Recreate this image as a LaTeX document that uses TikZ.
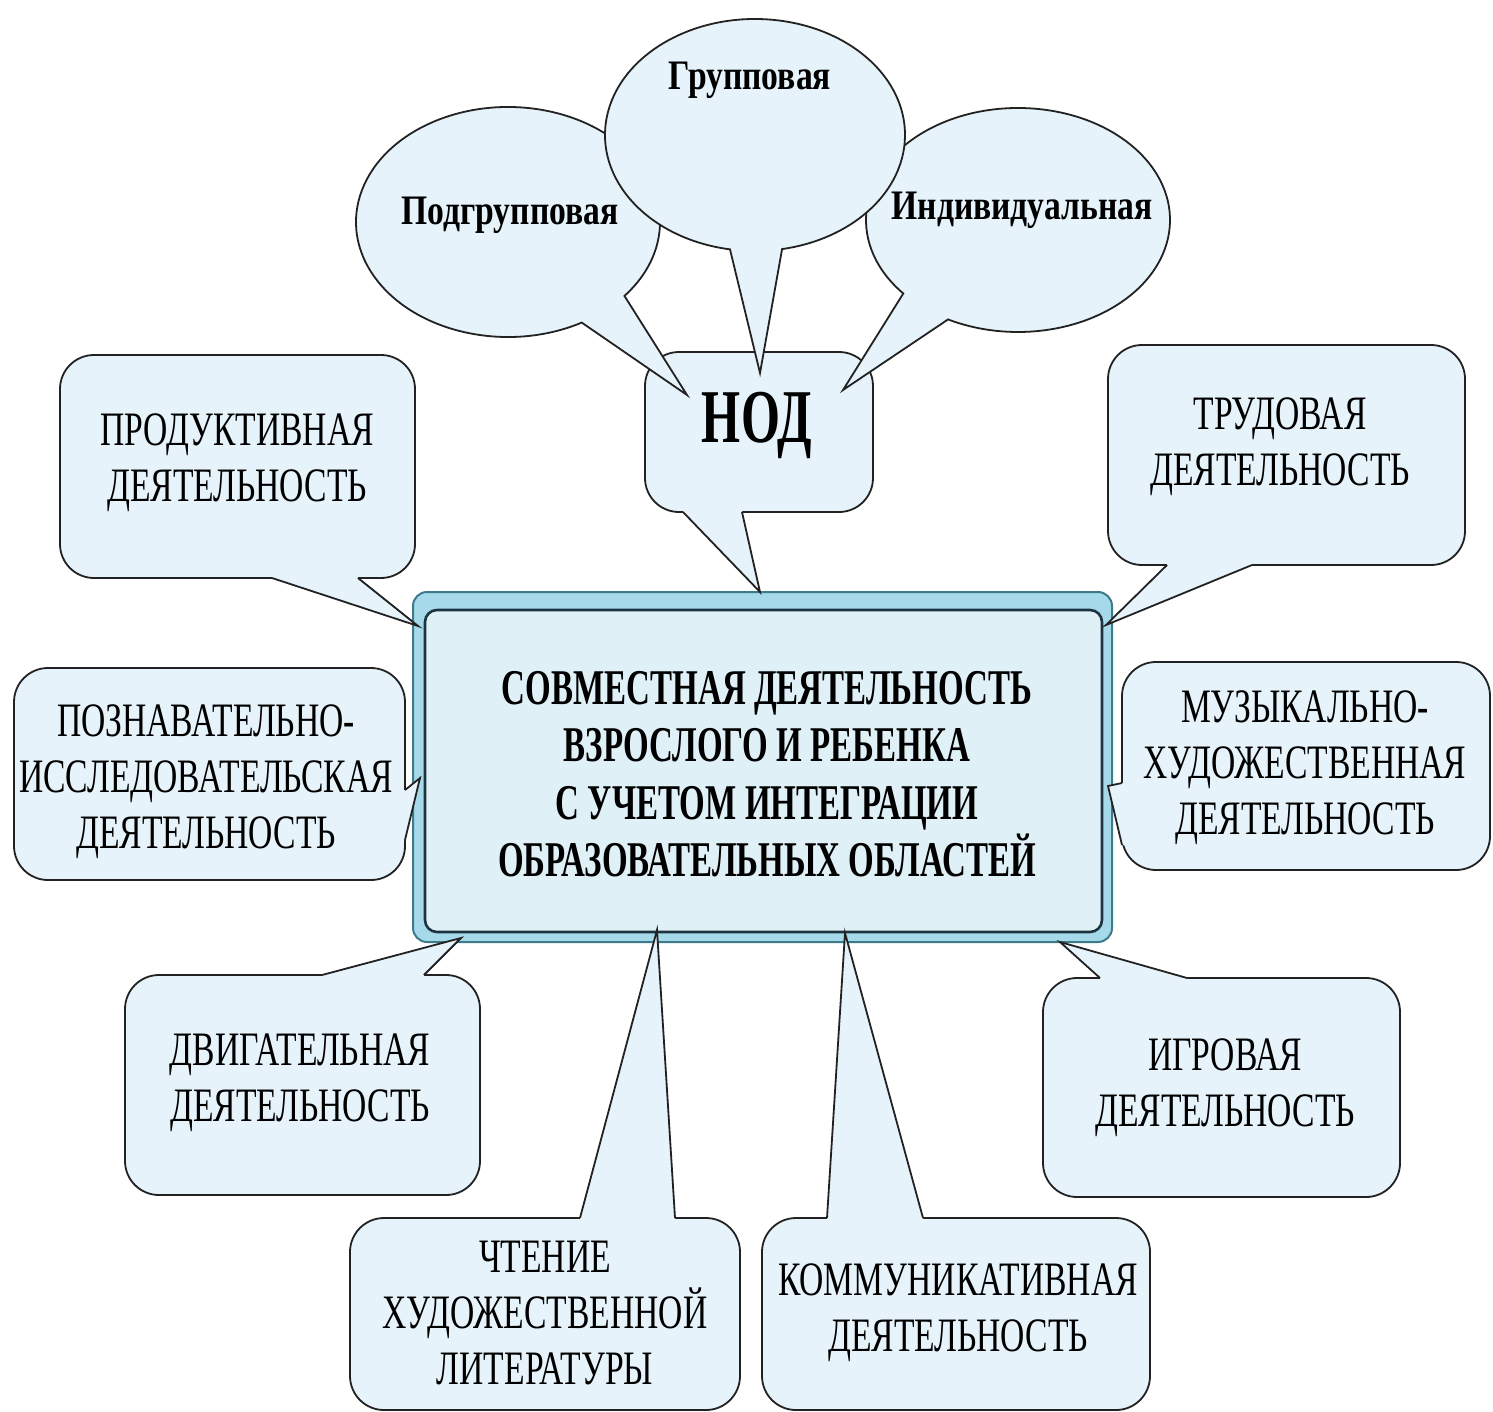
\documentclass[tikz,border=0pt]{standalone}
\usepackage{fontspec}
\setmainfont{Liberation Serif}
\newfontfamily\condr[FakeStretch=0.70]{Liberation Serif}
\newfontfamily\condb[FakeStretch=0.66]{Liberation Serif}
\newfontfamily\condbe[FakeStretch=0.80]{Liberation Serif}
\usetikzlibrary{calc}
\definecolor{cfill}{HTML}{E6F3FA}
\definecolor{cline}{HTML}{222222}
\definecolor{frameblue}{HTML}{A6D9EA}
\definecolor{frameline}{HTML}{3D7A8A}
\definecolor{innerfill}{HTML}{E0F0F7}
\definecolor{innerline}{HTML}{1C3440}
\tikzset{
  cbox/.style={draw=cline, line width=0.9pt, fill=cfill, rounded corners=17pt},
  pcover/.style={fill=cfill, draw=none},
  pline/.style={draw=cline, line width=0.9pt, line join=miter},
  ebox/.style={draw=cline, line width=0.9pt, fill=cfill},
  ctext/.style={align=center, inner sep=0pt, font=\condr\fontsize{24}{28}\selectfont},
  etext/.style={inner sep=0pt, font=\condbe\bfseries\fontsize{21}{24}\selectfont},
  mtext/.style={align=center, inner sep=0pt, font=\condb\bfseries\fontsize{25}{28.7}\selectfont},
}
\begin{document}
\begin{tikzpicture}[x=0.5pt, y=-0.5pt]
\useasboundingbox (0,0) rectangle (1493,1412);
\fill[white] (0,0) rectangle (1493,1412);

% central frame
\draw[fill=frameblue, draw=frameline, line width=1pt, rounded corners=7pt] (413,592) rectangle (1112,942);
\draw[fill=innerfill, draw=innerline, line width=1.3pt, rounded corners=6pt] (425,610) rectangle (1102,932);
\node[mtext] (main) at (767,774) {СОВМЕСТНАЯ ДЕЯТЕЛЬНОСТЬ\\ВЗРОСЛОГО И РЕБЕНКА\\С УЧЕТОМ ИНТЕГРАЦИИ\\ОБРАЗОВАТЕЛЬНЫХ ОБЛАСТЕЙ};

% NOD box
\draw[cbox] (645,352) rectangle (873,512);
\fill[pcover] (683,512) -- (760,592) -- (742,512) -- (742,505) -- (683,505) -- cycle;
\draw[pline] (683,512) -- (760,592) -- (742,512);
\node[inner sep=0pt, font=\condb\bfseries\fontsize{38}{40}\selectfont] (nod) at (757,425) {НОД};

% ellipses
\coordinate (pg) at (508,222);
\coordinate (ind) at (1018,220);
\coordinate (gr) at (755,135);
\draw[ebox] ($(pg)+(61:152 and 115)$) arc[start angle=61, end angle=400, x radius=152, y radius=115] -- (687,395) -- cycle;
\draw[ebox] ($(ind)+(139:152 and 112)$) arc[start angle=139, end angle=477.4, x radius=152, y radius=112] -- (843,390) -- cycle;
\draw[ebox] ($(gr)+(99.6:150 and 116)$) arc[start angle=99.6, end angle=439.6, x radius=150, y radius=116] -- (760,373) -- cycle;
\node[etext] (tpg) at (510,215) {Подгрупповая};
\node[etext] (tgr) at (750,80) {Групповая};
\node[etext] (tind) at (1022,210) {Индивидуальная};

% ПРОДУКТИВНАЯ
\draw[cbox] (60,355) rectangle (415,578);
\fill[pcover] (272,578) -- (418,626) -- (358,578) -- (358,571) -- (272,571) -- cycle;
\draw[pline] (272,578) -- (418,626) -- (358,578);
\node[ctext] (prod) at (237,463) {ПРОДУКТИВНАЯ\\ДЕЯТЕЛЬНОСТЬ};

% ПОЗНАВАТЕЛЬНО
\draw[cbox] (14,668) rectangle (405,880);
\fill[pcover] (405,790) -- (420,778) -- (405,840) -- (398,840) -- (398,790) -- cycle;
\draw[pline] (405,790) -- (420,778) -- (405,840);
\node[ctext] (pozn) at (206,782) {ПОЗНАВАТЕЛЬНО-\\ИССЛЕДОВАТЕЛЬСКАЯ\\ДЕЯТЕЛЬНОСТЬ};

% ДВИГАТЕЛЬНАЯ
\draw[cbox] (125,975) rectangle (480,1195);
\fill[pcover] (322,975) -- (461,938) -- (424,975) -- (424,982) -- (322,982) -- cycle;
\draw[pline] (322,975) -- (461,938) -- (424,975);
\node[ctext] (dvig) at (300,1083) {ДВИГАТЕЛЬНАЯ\\ДЕЯТЕЛЬНОСТЬ};

% ЧТЕНИЕ
\draw[cbox] (350,1218) rectangle (740,1410);
\fill[pcover] (580,1218) -- (657,930) -- (675,1218) -- (675,1225) -- (580,1225) -- cycle;
\draw[pline] (580,1218) -- (657,930) -- (675,1218);
\node[ctext] (cht) at (545,1313) {ЧТЕНИЕ\\ХУДОЖЕСТВЕННОЙ\\ЛИТЕРАТУРЫ};

% КОММУНИКАТИВНАЯ
\draw[cbox] (762,1218) rectangle (1150,1410);
\fill[pcover] (827,1218) -- (845,933) -- (923,1218) -- (923,1225) -- (827,1225) -- cycle;
\draw[pline] (827,1218) -- (845,933) -- (923,1218);
\node[ctext] (komm) at (958,1313) {КОММУНИКАТИВНАЯ\\ДЕЯТЕЛЬНОСТЬ};

% ИГРОВАЯ
\draw[cbox] (1043,978) rectangle (1400,1197);
\fill[pcover] (1100,978) -- (1060,942) -- (1187,978) -- (1187,985) -- (1100,985) -- cycle;
\draw[pline] (1100,978) -- (1060,942) -- (1187,978);
\node[ctext] (igr) at (1225,1088) {ИГРОВАЯ\\ДЕЯТЕЛЬНОСТЬ};

% МУЗЫКАЛЬНО
\draw[cbox] (1122,662) rectangle (1490,870);
\fill[pcover] (1122,783) -- (1108,786) -- (1122,845) -- (1129,845) -- (1129,783) -- cycle;
\draw[pline] (1122,783) -- (1108,786) -- (1122,845);
\node[ctext] (muz) at (1305,768) {МУЗЫКАЛЬНО-\\ХУДОЖЕСТВЕННАЯ\\ДЕЯТЕЛЬНОСТЬ};

% ТРУДОВАЯ
\draw[cbox] (1108,345) rectangle (1465,565);
\fill[pcover] (1167,565) -- (1106,625) -- (1252,565) -- (1252,558) -- (1167,558) -- cycle;
\draw[pline] (1167,565) -- (1106,625) -- (1252,565);
\node[ctext] (trud) at (1280,447) {ТРУДОВАЯ\\ДЕЯТЕЛЬНОСТЬ};
\end{tikzpicture}
\end{document}
